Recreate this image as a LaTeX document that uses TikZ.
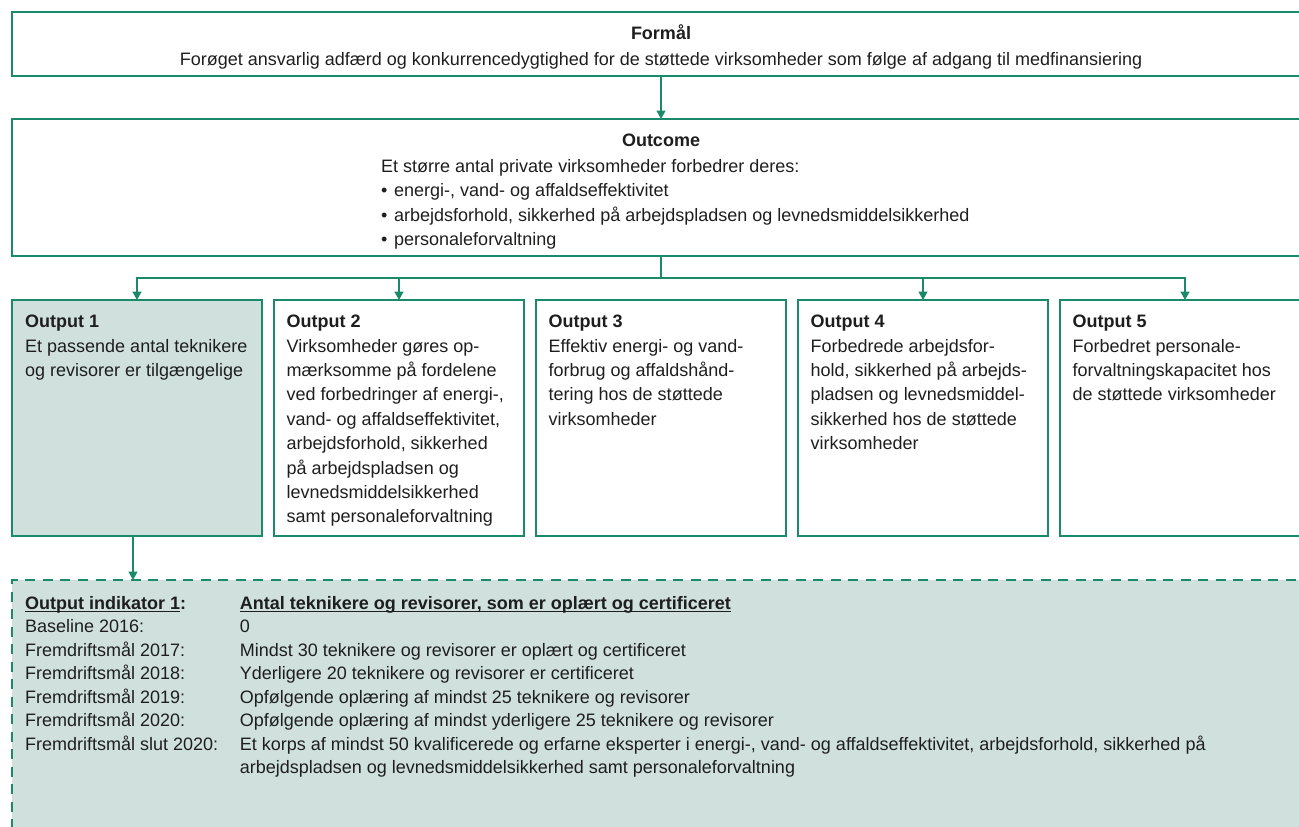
\documentclass[tikz,border=0pt]{standalone}
\usepackage{fontspec}
\setmainfont{Liberation Sans}
\usetikzlibrary{arrows.meta,calc}
\definecolor{grn}{HTML}{1B8A6B}
\definecolor{lfill}{HTML}{D0E1DD}
\definecolor{ink}{HTML}{1E1E1E}
\newcommand{\myul}[1]{\setbox0\hbox{#1}\rlap{\rule[-2.6pt]{\wd0}{0.9pt}}\box0}
\newcommand{\bul}{\makebox[13pt][l]{\textbullet}}
\begin{document}
\begin{tikzpicture}[x=1pt,y=-1pt,
  box/.style={draw=grn, line width=1.8pt, anchor=north west, inner sep=0pt, outer sep=0pt},
  txt/.style={font=\fontsize{18}{24.4}\selectfont, text=ink, inner sep=0pt, align=left, anchor=north west},
  itxt/.style={txt, font=\fontsize{18}{23.5}\selectfont},
  ttl/.style={font=\fontsize{18}{24}\selectfont, text=ink, inner sep=0pt, anchor=base},
  arr/.style={draw=grn, line width=1.5pt, -{Triangle[width=9pt,length=8.5pt]}},
  conn/.style={draw=grn, line width=1.5pt}]
\useasboundingbox (0,0) rectangle (1299,827);
\clip (0,0) rectangle (1299,827);
% boxes
\node[box, minimum width=1298pt, minimum height=64pt] (fm) at (12,12) {};
\node[box, minimum width=1298pt, minimum height=137pt] (oc) at (12,119) {};
\node[box, fill=lfill, minimum width=250pt, minimum height=236pt] (o1) at (12,300) {};
\node[box, minimum width=250pt, minimum height=236pt] (o2) at (274,300) {};
\node[box, minimum width=250pt, minimum height=236pt] (o3) at (536,300) {};
\node[box, minimum width=250pt, minimum height=236pt] (o4) at (798,300) {};
\node[box, minimum width=250pt, minimum height=236pt] (o5) at (1060,300) {};
\node[box, fill=lfill, dash pattern=on 10pt off 7.5pt, minimum width=1298pt, minimum height=280pt] (ind) at (12,580) {};
% connectors
\coordinate (bus) at (661,278);
\draw[arr] (fm.south) -- (oc.north);
\draw[conn] (oc.south) -- (bus);
\draw[arr] (bus) -| (o1.north);
\draw[arr] (bus) -| (o2.north);
\draw[arr] (bus) -| (o4.north);
\draw[arr] (bus) -| (o5.north);
\draw[arr] ([xshift=-4pt]o1.south) -- ([xshift=-4pt]o1.south |- ind.north);
% texts
\node[ttl] (fmt) at (661,39.5) {\textbf{Formål}};
\node[ttl] (fmb) at (661,65.5) {Forøget ansvarlig adfærd og konkurrencedygtighed for de støttede virksomheder som følge af adgang til medfinansiering};
\node[ttl] (oct) at (661,146.5) {\textbf{Outcome}};
\node[txt] (ocb) at (381,159) {Et større antal private virksomheder forbedrer deres:\\
\bul energi-, vand- og affaldseffektivitet\\
\bul arbejdsforhold, sikkerhed på arbejdspladsen og levnedsmiddelsikkerhed\\
\bul personaleforvaltning};
\node[txt] (o1t) at (25,315) {\textbf{Output 1}\\Et passende antal teknikere\\og revisorer er tilgængelige};
\node[txt] (o2t) at (286.5,315) {\textbf{Output 2}\\Virksomheder gøres op-\\mærksomme på fordelene\\ved forbedringer af energi-,\\vand- og affaldseffektivitet,\\arbejdsforhold, sikkerhed\\på arbejdspladsen og\\levnedsmiddelsikkerhed\\samt personaleforvaltning};
\node[txt] (o3t) at (548.5,315) {\textbf{Output 3}\\Effektiv energi- og vand-\\forbrug og affaldshånd-\\tering hos de støttede\\virksomheder};
\node[txt] (o4t) at (810.5,315) {\textbf{Output 4}\\Forbedrede arbejdsfor-\\hold, sikkerhed på arbejds-\\pladsen og levnedsmiddel-\\sikkerhed hos de støttede\\virksomheder};
\node[txt] (o5t) at (1072.5,315) {\textbf{Output 5}\\Forbedret personale-\\forvaltningskapacitet hos\\de støttede virksomheder};
\node[itxt] (il) at (25,596) {\textbf{\myul{Output indikator 1}:}\\Baseline 2016:\\Fremdriftsmål 2017:\\Fremdriftsmål 2018:\\Fremdriftsmål 2019:\\Fremdriftsmål 2020:\\Fremdriftsmål slut 2020:};
\node[itxt] (iv) at (239.6,596) {\textbf{\myul{Antal teknikere og revisorer, som er oplært og certificeret}}\\0\\Mindst 30 teknikere og revisorer er oplært og certificeret\\Yderligere 20 teknikere og revisorer er certificeret\\Opfølgende oplæring af mindst 25 teknikere og revisorer\\Opfølgende oplæring af mindst yderligere 25 teknikere og revisorer\\Et korps af mindst 50 kvalificerede og erfarne eksperter i energi-, vand- og affaldseffektivitet, arbejdsforhold, sikkerhed på\\arbejdspladsen og levnedsmiddelsikkerhed samt personaleforvaltning};
\end{tikzpicture}
\end{document}
